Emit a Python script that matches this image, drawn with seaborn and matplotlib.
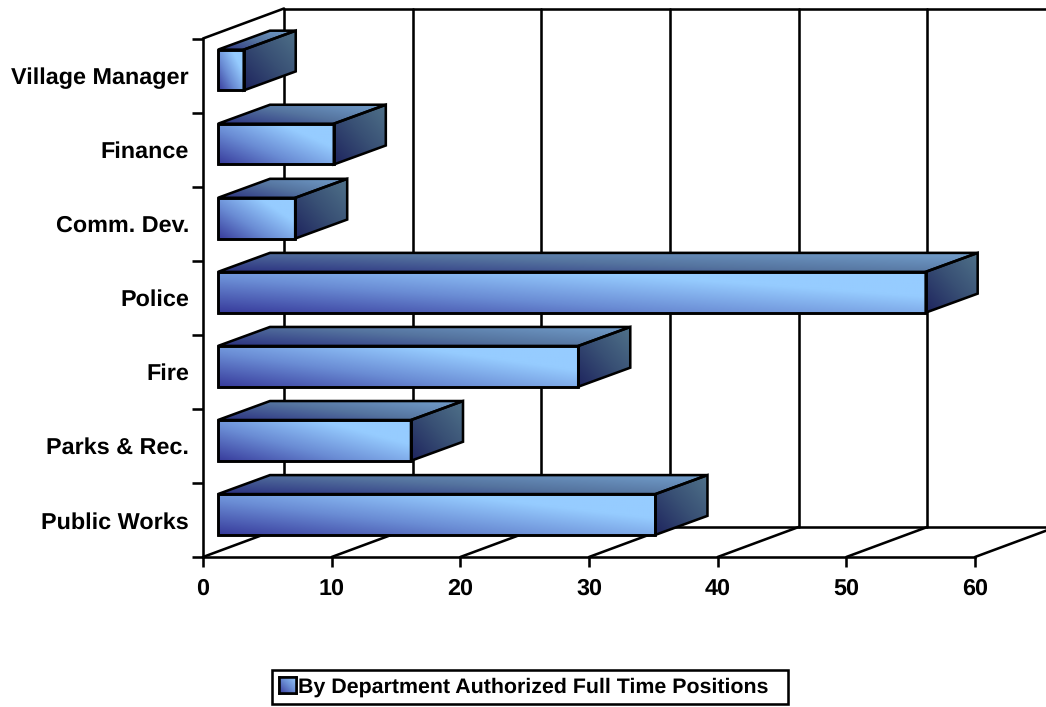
import numpy as np
import pandas as pd
import matplotlib
matplotlib.use("Agg")
import matplotlib.pyplot as plt
from matplotlib.patches import Patch, Polygon
from matplotlib.colors import LinearSegmentedColormap
import seaborn as sns

departments = ["Village Manager", "Finance", "Comm. Dev.", "Police", "Fire",
               "Parks & Rec.", "Public Works"]
positions = [2, 9, 6, 55, 28, 15, 34]
x_ticks = [0, 10, 20, 30, 40, 50, 60]
series_name = "By Department Authorized Full Time Positions"

W, H = 1046, 707
AX_L, AX_R, AX_T, AX_B = 203, 975, 38.5, 557
PX_X = (AX_R - AX_L) / 60
PX_Y = (AX_B - AX_T) / 7
LW = 1.85
FONT_SIZE = 16.8

# Oblique projection offsets, in pixels
WALL_DX, WALL_DY = 81 / PX_X, 30 / PX_Y
BAR_DX, BAR_DY = 15 / PX_X, 5.5 / PX_Y
SIDE_DX, SIDE_DY = 52 / PX_X, 19 / PX_Y

front_cmap = LinearSegmentedColormap.from_list("front", ["#383C9C", "#6A8CD4", "#96CCFF"])
top_cmap = LinearSegmentedColormap.from_list("top", ["#2B3180", "#55749F", "#739FCC"])
side_cmap = LinearSegmentedColormap.from_list("side", ["#1E245E", "#384F74", "#4F7189"])

sns.set_theme(style="white")
plt.rcParams["font.family"] = ["Liberation Sans", "DejaVu Sans"]
plt.rcParams["text.hinting"] = "none"

fig = plt.figure(figsize=(W / 100, H / 100), dpi=100, facecolor="white")
ax = fig.add_axes([AX_L / W, 1 - AX_B / H, (AX_R - AX_L) / W, (AX_B - AX_T) / H])

df = pd.DataFrame({"department": departments, "positions": positions})
sns.barplot(data=df, y="department", x="positions", width=0.55, ax=ax,
            facecolor="none", edgecolor="black", linewidth=LW, zorder=5)


def gradient(size=64):
    u, v = np.meshgrid(np.linspace(0, 1, size), np.linspace(1, 0, size))
    return u, v


def shade(corners, cmap, wu=0.5, wv=0.5, z=4):
    """Fill a polygon with a diagonal gradient and outline it."""
    corners = np.array(corners)
    x0, x1 = corners[:, 0].min(), corners[:, 0].max()
    y0, y1 = corners[:, 1].min(), corners[:, 1].max()
    u, v = gradient()
    img = ax.imshow(np.clip(wu * u + wv * v, 0, 1), cmap=cmap, vmin=0, vmax=1,
                    extent=[x0, x1, y1, y0], aspect="auto", zorder=z,
                    interpolation="bilinear")
    outline = Polygon(corners, closed=True, facecolor="none", edgecolor="black",
                      linewidth=LW, zorder=z + 0.5, clip_on=False, joinstyle="miter")
    ax.add_patch(outline)
    img.set_clip_box(fig.bbox)
    img.set_clip_path(outline)


# Back wall and floor of the 3D box
top_y, bottom_y = -0.5, 6.5
wall_style = dict(color="black", linewidth=LW, clip_on=False, zorder=1)
for t in x_ticks:
    ax.plot([t + WALL_DX] * 2, [bottom_y - WALL_DY, top_y - WALL_DY], **wall_style)
    ax.plot([t, t + WALL_DX], [bottom_y, bottom_y - WALL_DY], **wall_style)
ax.plot([WALL_DX, 60 + 2 * WALL_DX], [top_y - WALL_DY] * 2, **wall_style)
ax.plot([WALL_DX, 60 + 2 * WALL_DX], [bottom_y - WALL_DY] * 2, **wall_style)
ax.plot([0, WALL_DX], [top_y, top_y - WALL_DY], **wall_style)

# Extrude each bar: slide the front face forward, add top and right faces
for bar in ax.patches[:len(positions)]:
    x, y, w, h = bar.get_x() + BAR_DX, bar.get_y() - BAR_DY, bar.get_width(), bar.get_height()
    bar.set_x(x)
    bar.set_y(y)
    shade([(x, y), (x + w, y), (x + w, y + h), (x, y + h)], front_cmap, 0.75, 0.6)
    shade([(x, y), (x + w, y), (x + w + SIDE_DX, y - SIDE_DY), (x + SIDE_DX, y - SIDE_DY)],
          top_cmap, 0.6, 0.4)
    shade([(x + w, y), (x + w + SIDE_DX, y - SIDE_DY),
           (x + w + SIDE_DX, y + h - SIDE_DY), (x + w, y + h)], side_cmap, 0.5, 0.5)

ax.set_xlim(0, 60)
ax.set_ylim(6.5, -0.5)
ax.set_xlabel("")
ax.set_ylabel("")
ax.patch.set_alpha(0)
sns.despine(ax=ax)
for side in ("left", "bottom"):
    ax.spines[side].set_linewidth(LW)
    ax.spines[side].set_color("black")
    ax.spines[side].set_zorder(3)

ax.set_xticks(x_ticks)
ax.set_yticks(range(len(departments)))
ax.set_yticklabels(departments)
ax.set_yticks(np.arange(-0.5, 7), minor=True)
ax.tick_params(axis="x", which="major", bottom=True, length=7, width=LW, color="black",
               labelsize=FONT_SIZE, labelcolor="black", pad=8)
ax.tick_params(axis="y", which="major", left=False, length=0, labelsize=FONT_SIZE,
               labelcolor="black", pad=10)
ax.tick_params(axis="y", which="minor", left=True, length=8, width=LW, color="black")
for label in ax.get_xticklabels() + ax.get_yticklabels():
    label.set_fontweight("bold")

# Legend box with a gradient swatch laid over its handle
legend = fig.legend(handles=[Patch(facecolor="#6A8CD4", edgecolor="black", linewidth=LW, label=series_name)],
                    loc="center", bbox_to_anchor=(272 / W, 1 - 705 / H, 516 / W, 36 / H),
                    mode="expand", fancybox=False, framealpha=1, edgecolor="black",
                    handlelength=0.78, handleheight=0.78, handletextpad=0.12, borderpad=0.32,
                    borderaxespad=0, prop=dict(weight="bold", size=15.4))
legend.get_frame().set_linewidth(LW)
legend.get_texts()[0].set_color("black")

fig.canvas.draw()
box = legend.get_patches()[0].get_window_extent()
swatch = fig.add_axes([box.x0 / W, box.y0 / H, box.width / W, box.height / H], zorder=10)
u, v = gradient()
swatch.imshow(np.clip(0.5 * u + 0.5 * v, 0, 1), cmap=front_cmap, vmin=0, vmax=1, aspect="auto")
swatch.set_xticks([])
swatch.set_yticks([])
for spine in swatch.spines.values():
    spine.set_linewidth(LW)
    spine.set_color("black")

fig.savefig("out.png", dpi=100)
